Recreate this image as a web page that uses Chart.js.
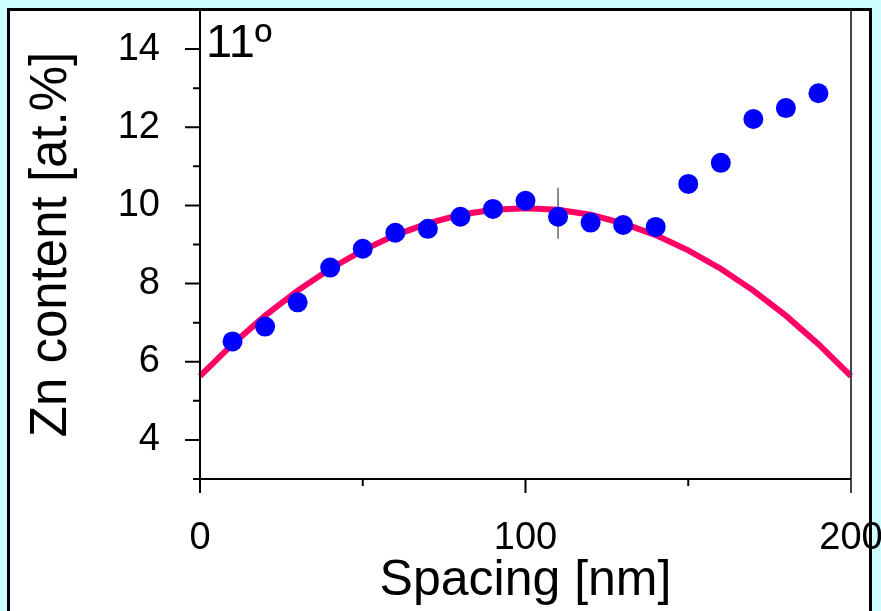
<!DOCTYPE html>
<html lang="en">
<head>
<meta charset="UTF-8">
<title>Zn content vs spacing</title>
<script src="https://cdn.jsdelivr.net/npm/chart.js"></script>
<style>
    * { margin: 0; padding: 0; box-sizing: border-box; }
    body {
        width: 881px;
        height: 611px;
        background: #ccffff;
        overflow: hidden;
        position: relative;
    }
    /* white sheet behind the chart, frame drawn on top of it */
    .paper {
        position: absolute;
        left: 8px; top: 9px;
        width: 863px; height: 620px;
        background: #fff;
    }
    .frame {
        position: absolute;
        left: 7px; top: 8px;
        width: 865px; height: 620px;
        border: 3px solid #000;
        pointer-events: none;
    }
    #chart { position: absolute; left: 0; top: 0; }
</style>
</head>
<body>
<div class="paper"></div>
<canvas id="chart" width="881" height="611"></canvas>
<div class="frame"></div>

<script>
// measured points
const spacing   = [10, 20, 30, 40, 50, 60, 70, 80, 90, 100, 110, 120, 130, 140, 150, 160, 170, 180, 190];
const znContent = [6.52, 6.90, 7.52, 8.41, 8.89, 9.30, 9.40, 9.71, 9.91, 10.12, 9.71, 9.56, 9.50, 9.45, 10.55, 11.09, 12.21, 12.49, 12.87];

// fitted curve
const fitX = [0, 10, 20, 30, 40, 50, 60, 70, 80, 90, 100, 110, 120, 130, 140, 150, 160, 170, 180, 190, 200];
const fitY = [5.63, 6.45, 7.18, 7.82, 8.38, 8.85, 9.24, 9.54, 9.76, 9.89, 9.93, 9.89, 9.76, 9.54, 9.24, 8.85, 8.38, 7.82, 7.18, 6.45, 5.63];

// error bar at 110 nm
const errX = [110, 110];
const errY = [10.45, 9.15];

// axes
const xTicks = [0, 100, 200];
const xMinor = [50, 150];
const yTicks = [4, 6, 8, 10, 12, 14];
const yMinor = [3, 5, 7, 9, 11, 13];

const FONT = "'Liberation Sans', Arial, Helvetica, sans-serif";

// keep the plot area where it is, no extra room for edge labels
function noEdgePadding(s) {
    s.paddingLeft = s.paddingRight = s.paddingTop = s.paddingBottom = 0;
}

const axesPlugin = {
    id: 'axes',
    afterDatasetsDraw(chart) {
        const { ctx, chartArea: a, scales: { x, y } } = chart;
        ctx.save();
        ctx.lineCap = 'butt';

        // right frame line of the plot
        ctx.strokeStyle = '#444';
        ctx.lineWidth = 2;
        ctx.beginPath();
        ctx.moveTo(a.right, a.top);
        ctx.lineTo(a.right, a.bottom + 14);
        ctx.stroke();

        ctx.strokeStyle = '#000';
        ctx.lineWidth = 2;
        ctx.beginPath();
        ctx.moveTo(a.left, a.top);
        ctx.lineTo(a.left, a.bottom);
        ctx.moveTo(a.left, a.bottom);
        ctx.lineTo(a.right, a.bottom);

        yTicks.forEach(v => {
            const py = y.getPixelForValue(v);
            ctx.moveTo(a.left - 15, py); ctx.lineTo(a.left, py);
        });
        yMinor.forEach(v => {
            const py = y.getPixelForValue(v);
            ctx.moveTo(a.left - 7, py); ctx.lineTo(a.left, py);
        });
        xTicks.slice(0, -1).forEach(v => {
            const px = x.getPixelForValue(v);
            ctx.moveTo(px, a.bottom); ctx.lineTo(px, a.bottom + 14);
        });
        xMinor.forEach(v => {
            const px = x.getPixelForValue(v);
            ctx.moveTo(px, a.bottom); ctx.lineTo(px, a.bottom + 7);
        });
        ctx.stroke();

        // angle label
        ctx.fillStyle = '#000';
        ctx.font = '47px ' + FONT;
        ctx.textBaseline = 'alphabetic';
        ctx.textAlign = 'left';
        ctx.fillText('11º', a.left + 6, 57);
        ctx.restore();
    }
};

new Chart(document.getElementById('chart'), {
    type: 'scatter',
    data: {
        datasets: [
            {
                label: 'Zn content',
                data: spacing.map((v, i) => ({ x: v, y: znContent[i] })),
                backgroundColor: '#0000ff',
                borderWidth: 0,
                pointRadius: 10,
                order: 0
            },
            {
                label: 'error',
                data: errX.map((v, i) => ({ x: v, y: errY[i] })),
                showLine: true,
                borderColor: '#666',
                borderWidth: 1.5,
                pointRadius: 0,
                order: 1
            },
            {
                label: 'fit',
                data: fitX.map((v, i) => ({ x: v, y: fitY[i] })),
                showLine: true,
                borderColor: '#ff0066',
                borderWidth: 6,
                pointRadius: 0,
                tension: 0,
                clip: false,
                order: 2
            }
        ]
    },
    options: {
        responsive: false,
        animation: false,
        layout: { padding: { top: 9, right: 30, left: 0, bottom: 0 } },
        plugins: { legend: { display: false }, tooltip: { enabled: false } },
        scales: {
            x: {
                type: 'linear',
                min: 0, max: 200,
                afterBuildTicks: s => { s.ticks = xTicks.map(v => ({ value: v })); },
                afterFit: s => { s.height = 132; noEdgePadding(s); },
                grid: { display: false },
                border: { display: false },
                ticks: { color: '#000', font: { family: FONT, size: 38 }, padding: 29, maxRotation: 0, autoSkip: false },
                title: { display: true, text: 'Spacing [nm]', color: '#000', font: { family: FONT, size: 50 }, padding: 0 }
            },
            y: {
                type: 'linear',
                min: 3, max: 15,
                afterBuildTicks: s => { s.ticks = yTicks.map(v => ({ value: v })); },
                afterFit: s => { s.width = 200; noEdgePadding(s); },
                grid: { display: false },
                border: { display: false },
                ticks: { color: '#000', font: { family: FONT, size: 38 }, padding: 32 },
                title: { display: true, text: 'Zn content [at.%]', color: '#000', font: { family: FONT, size: 51 }, padding: { top: 21, bottom: 0 } }
            }
        }
    },
    plugins: [axesPlugin]
});
</script>
</body>
</html>
